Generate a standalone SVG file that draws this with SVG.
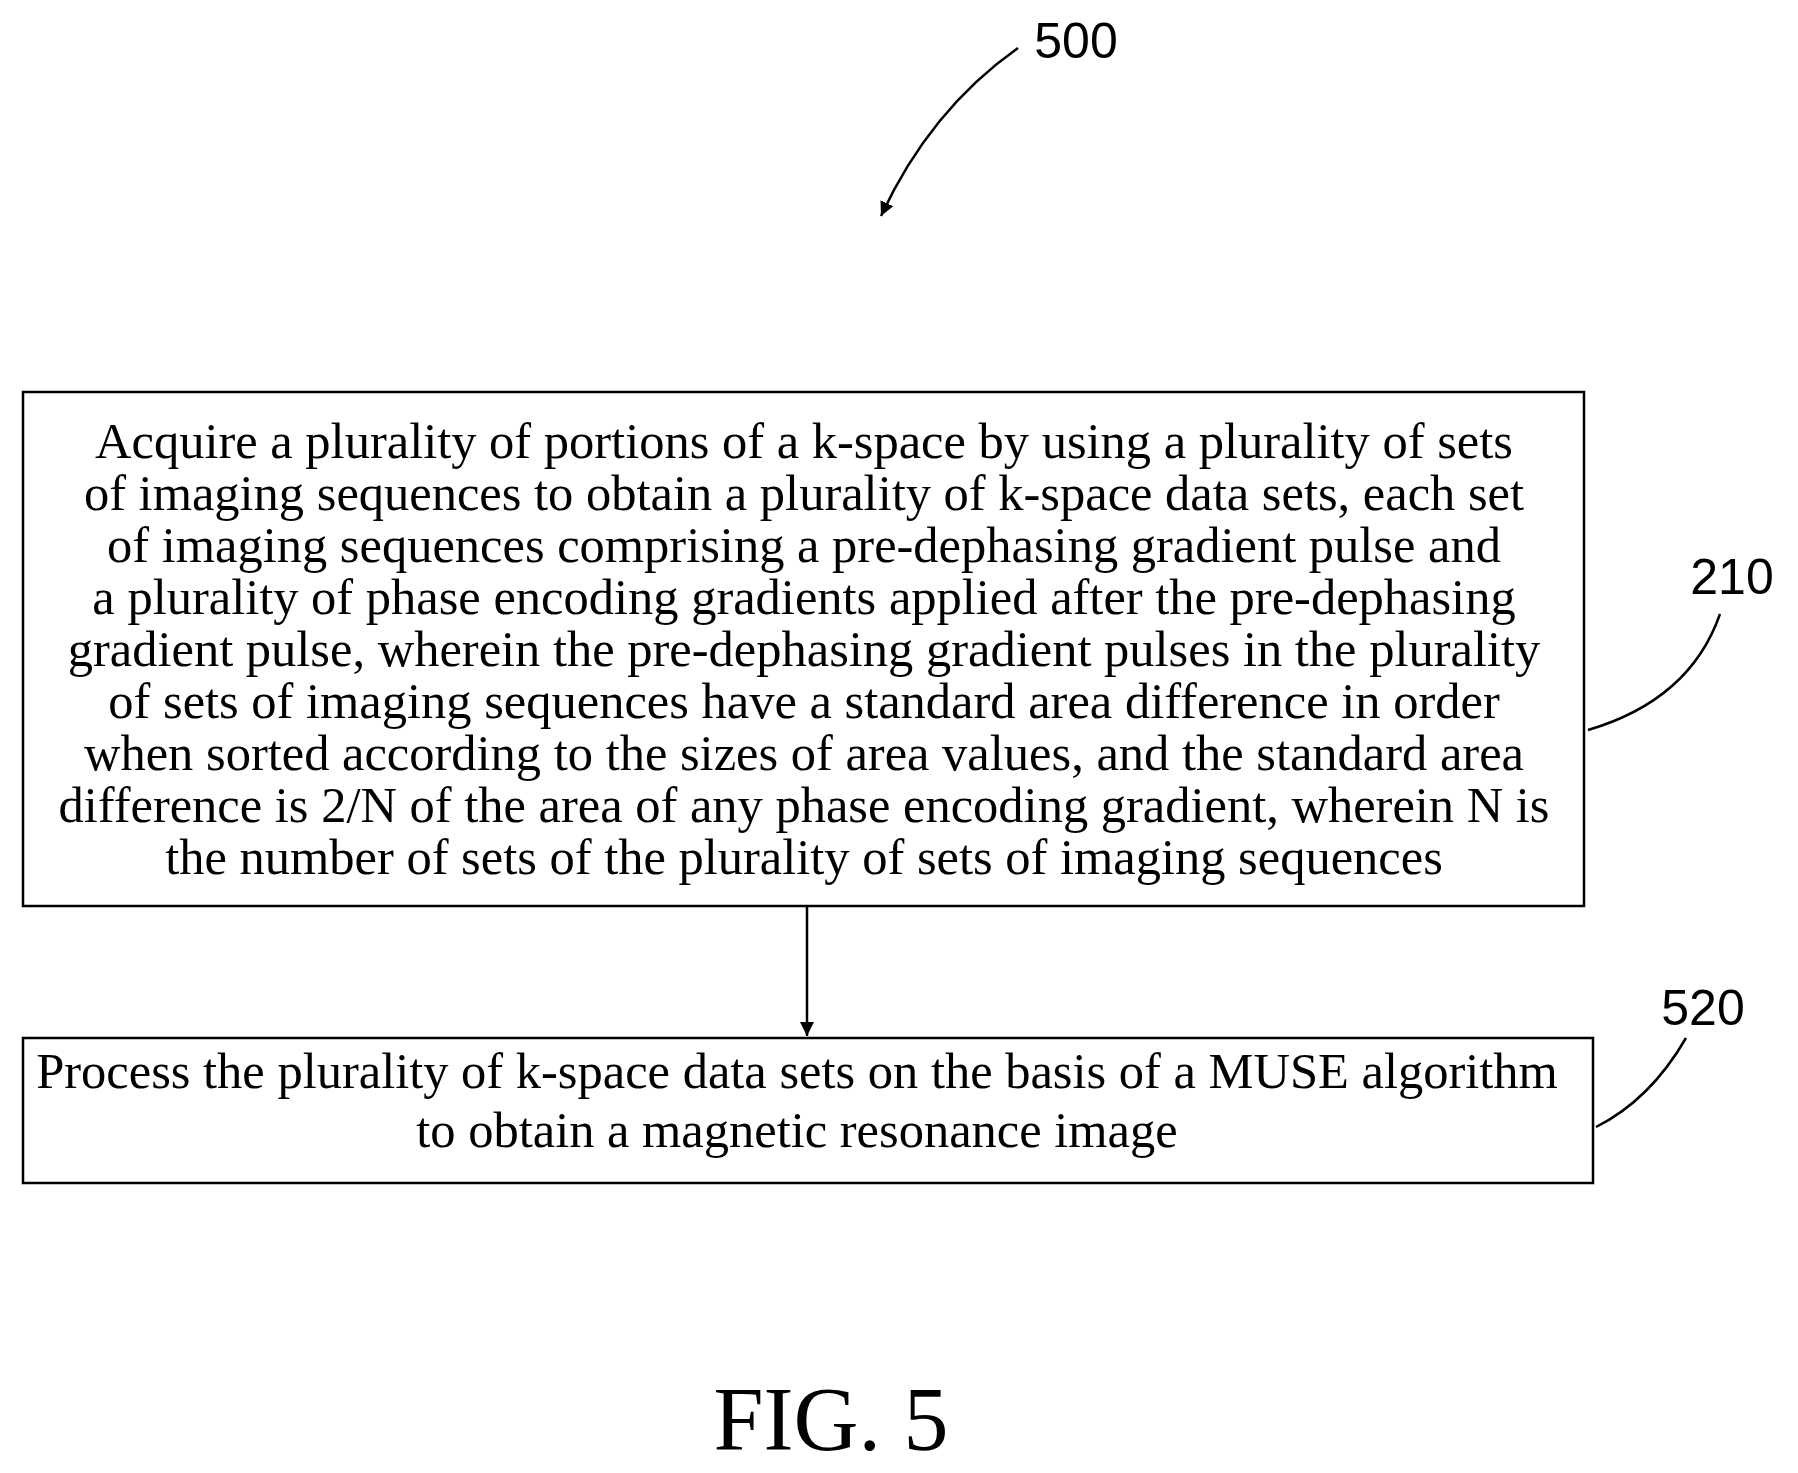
<svg xmlns="http://www.w3.org/2000/svg" width="1798" height="1473" viewBox="0 0 1798 1473">
<style>
.t{font-family:"Liberation Serif",serif;font-size:50.5px;fill:#000;text-anchor:middle}
.l{font-family:"Liberation Sans",sans-serif;font-size:50px;fill:#000;text-anchor:middle}
.b{fill:#fff;stroke:#000;stroke-width:2.5}
.c{fill:none;stroke:#000;stroke-width:2.5}
</style>
<defs><marker id="ah2" viewBox="0 0 10 10" refX="10" refY="5" markerWidth="14" markerHeight="14" orient="auto" markerUnits="userSpaceOnUse"><path d="M0,0L10,5L0,10z"/></marker></defs>
<rect width="1798" height="1473" fill="#fff"/>
<g id="n210">
<rect class="b" x="23" y="392" width="1561" height="514"/>
<text class="t" x="804" y="458">Acquire a plurality of portions of a k-space by using a plurality of sets</text>
<text class="t" x="804" y="510">of imaging sequences to obtain a plurality of k-space data sets, each set</text>
<text class="t" x="804" y="562">of imaging sequences comprising a pre-dephasing gradient pulse and</text>
<text class="t" x="804" y="614">a plurality of phase encoding gradients applied after the pre-dephasing</text>
<text class="t" x="804" y="666">gradient pulse, wherein the pre-dephasing gradient pulses in the plurality</text>
<text class="t" x="804" y="718">of sets of imaging sequences have a standard area difference in order</text>
<text class="t" x="804" y="770">when sorted according to the sizes of area values, and the standard area</text>
<text class="t" x="804" y="822">difference is 2/N of the area of any phase encoding gradient, wherein N is</text>
<text class="t" x="804" y="874">the number of sets of the plurality of sets of imaging sequences</text>
</g>
<g id="n520">
<rect class="b" x="23" y="1038" width="1570" height="145"/>
<text class="t" x="797" y="1088">Process the plurality of k-space data sets on the basis of a MUSE algorithm</text>
<text class="t" x="797" y="1147">to obtain a magnetic resonance image</text>
</g>
<g id="connectors">
<line class="c" x1="807" y1="906" x2="807" y2="1036" marker-end="url(#ah2)"/>
<path class="c" d="M1018,48 Q930,110 881,216" marker-end="url(#ah2)"/>
<path class="c" d="M1720,614 Q1690,700 1588,730"/>
<path class="c" d="M1686,1038 Q1650,1100 1596,1127"/>
</g>
<g id="labels">
<text class="l" x="1076" y="58">500</text>
<text class="l" x="1732" y="594">210</text>
<text class="l" x="1703" y="1025">520</text>
<text class="t" style="font-size:90px" x="831" y="1450">FIG. 5</text>
</g>
</svg>
